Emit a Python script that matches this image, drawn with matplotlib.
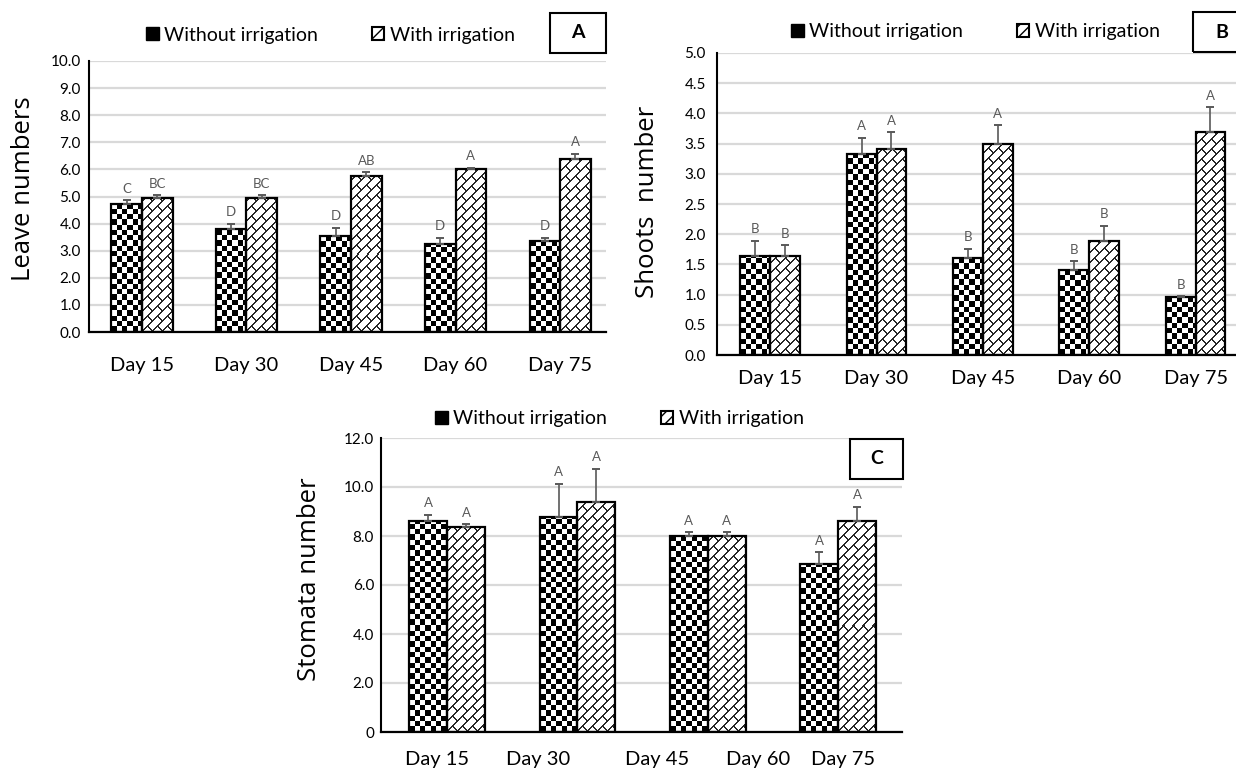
import numpy as np
import matplotlib
matplotlib.use("Agg")
import matplotlib.pyplot as plt
from matplotlib.patches import Patch, Rectangle

plt.rcParams['font.family'] = ['Lato', 'DejaVu Sans']

# ---- data ----
days = ["Day 15", "Day 30", "Day 45", "Day 60", "Day 75"]
series_names = ["Without irrigation", "With irrigation"]

# A: leave numbers
leaves_without = [4.74, 3.81, 3.53, 3.24, 3.36]
leaves_without_err = [0.12, 0.19, 0.31, 0.23, 0.11]
leaves_with = [4.93, 4.93, 5.77, 6.01, 6.38]
leaves_with_err = [0.11, 0.11, 0.12, 0.06, 0.19]
leaves_letters_without = ["C", "D", "D", "D", "D"]
leaves_letters_with = ["BC", "BC", "AB", "A", "A"]
leaves_ticks = [0, 1, 2, 3, 4, 5, 6, 7, 8, 9, 10]
leaves_ticklabels = ["0.0", "1.0", "2.0", "3.0", "4.0", "5.0", "6.0", "7.0", "8.0", "9.0", "10.0"]

# B: shoots number
shoots_without = [1.64, 3.32, 1.61, 1.40, 0.96]
shoots_without_err = [0.25, 0.28, 0.15, 0.15, 0.01]
shoots_with = [1.64, 3.41, 3.50, 1.89, 3.69]
shoots_with_err = [0.18, 0.28, 0.30, 0.25, 0.41]
shoots_letters_without = ["B", "A", "B", "B", "B"]
shoots_letters_with = ["B", "A", "A", "B", "A"]
shoots_ticks = [0, 0.5, 1, 1.5, 2, 2.5, 3, 3.5, 4, 4.5, 5]
shoots_ticklabels = ["0.0", "0.5", "1.0", "1.5", "2.0", "2.5", "3.0", "3.5", "4.0", "4.5", "5.0"]

# C: stomata number (four bar groups, five axis labels in the original)
stomata_without = [8.63, 8.79, 7.98, 6.85]
stomata_without_err = [0.23, 1.34, 0.17, 0.49]
stomata_with = [8.35, 9.38, 7.98, 8.63]
stomata_with_err = [0.13, 1.36, 0.17, 0.57]
stomata_letters_without = ["A", "A", "A", "A"]
stomata_letters_with = ["A", "A", "A", "A"]
stomata_ticks = [0, 2, 4, 6, 8, 10, 12]
stomata_ticklabels = ["0", "2.0", "4.0", "6.0", "8.0", "10.0", "12.0"]

W, H = 1236, 769


def fig_xy(x, y):
    # pixel position (from top-left) -> figure fraction
    return x / W, 1 - y / H


def checker(h, w, sq=5.3):
    r = np.arange(h)[:, None]
    c = np.arange(w)[None, :]
    k = (np.floor((h - 1 - r) / sq) + np.floor(c / sq)).astype(int)
    return np.where(k % 2 == 0, 0.0, 1.0)


def brick(h, w, p=10, q=20, lw=1.6):
    r = np.arange(h)[:, None]
    c = np.arange(w)[None, :]
    y = h - 1 - r
    u = y - c
    v = y + c
    k = np.floor(u / p)
    fwd = np.mod(u, p) < lw
    back = np.mod(v + k * q / 2, q) < lw
    return np.where(fwd | back, 0.15, 1.0)


def fill_bars(ax, bars, pattern):
    for rect in bars:
        x0, y0 = rect.get_x(), rect.get_y()
        x1, y1 = x0 + rect.get_width(), y0 + rect.get_height()
        (px0, py0), (px1, py1) = ax.transData.transform([(x0, y0), (x1, y1)])
        w = max(int(round(px1 - px0)), 1)
        h = max(int(round(py1 - py0)), 1)
        ax.imshow(pattern(h, w), extent=(x0, x1, y0, y1), cmap='gray', vmin=0, vmax=1,
                  interpolation='nearest', aspect='auto', zorder=2)


def draw_panel(ax, vals1, err1, vals2, err2, let1, let2, ticks, ticklabels,
               xlim, width, xtick_pos, xtick_labels, xpad, ypad):
    x = np.arange(len(vals1))
    ymax = ticks[-1]
    ax.set_xlim(*xlim)
    ax.set_ylim(0, ymax)
    b1 = ax.bar(x - width / 2, vals1, width, facecolor='none', edgecolor='black', lw=1.6, zorder=3)
    b2 = ax.bar(x + width / 2, vals2, width, facecolor='none', edgecolor='black', lw=1.6, zorder=3)
    fill_bars(ax, b1, checker)
    fill_bars(ax, b2, brick)
    for xs, v, e, labs in [(x - width / 2, vals1, err1, let1), (x + width / 2, vals2, err2, let2)]:
        ax.errorbar(xs, v, yerr=[np.zeros(len(v)), e], fmt='none', ecolor='#595959',
                    elinewidth=1.2, capsize=3, capthick=1.4, zorder=4)
        for xi, vi, ei, lab in zip(xs, v, e, labs):
            ax.annotate(lab, (xi, vi + ei), xytext=(0, 4), textcoords='offset points',
                        ha='center', va='bottom', fontsize=9.5, color='#595959')
    ax.set_xlim(*xlim)
    ax.set_ylim(0, ymax)
    ax.set_yticks(ticks)
    ax.set_yticklabels(ticklabels, fontsize=11)
    ax.set_xticks(xtick_pos)
    ax.set_xticklabels(xtick_labels, fontsize=14.5)
    ax.tick_params(axis='x', length=0, pad=xpad)
    ax.tick_params(axis='y', length=0, pad=ypad)
    ax.yaxis.grid(True, color='#d9d9d9', lw=1.6)
    ax.set_axisbelow(True)
    for s in ['top', 'right']:
        ax.spines[s].set_visible(False)
    ax.spines['left'].set_linewidth(1.5)
    ax.spines['bottom'].set_linewidth(1.6)


def legend(fig, x, y):
    handles = [Patch(facecolor='black', edgecolor='black', lw=1),
               Patch(facecolor='white', edgecolor='black', hatch='///', lw=1.5)]
    fig.legend(handles, series_names, loc='center left', bbox_to_anchor=fig_xy(x, y),
               ncol=2, frameon=False, fontsize=14, handlelength=0.65, handleheight=0.65,
               handletextpad=0.3, columnspacing=2.75, borderpad=0, borderaxespad=0)


def panel_tag(fig, letter, left, top, right, bottom):
    x0, y0 = fig_xy(left, bottom)
    fig.add_artist(Rectangle((x0, y0), (right - left) / W, (bottom - top) / H,
                             transform=fig.transFigure, fill=False, edgecolor='black', lw=1.5))
    fig.text(*fig_xy((left + right) / 2, (top + bottom) / 2), letter, ha='center', va='center',
             fontsize=14, fontweight='bold')


fig = plt.figure(figsize=(W / 100, H / 100), dpi=100)

# panel A
axA = fig.add_axes([89 / W, 1 - 332 / H, (606 - 89) / W, (332 - 61) / H])
draw_panel(axA, leaves_without, leaves_without_err, leaves_with, leaves_with_err,
           leaves_letters_without, leaves_letters_with, leaves_ticks, leaves_ticklabels,
           (-0.507, 4.44), 0.292, np.arange(5), days, 18, 6)
fig.text(*fig_xy(24, 189), "Leave numbers", rotation=90, ha='center', va='center',
         fontsize=18.5, family=['Open Sans', 'DejaVu Sans'])
legend(fig, 146, 35)
panel_tag(fig, "A", 550, 13, 606, 53)

# panel B
axB = fig.add_axes([717 / W, 1 - 355 / H, (1236 - 717) / W, (355 - 53) / H])
draw_panel(axB, shoots_without, shoots_without_err, shoots_with, shoots_with_err,
           shoots_letters_without, shoots_letters_with, shoots_ticks, shoots_ticklabels,
           (-0.5, 4.38), 0.28, np.arange(5), days, 11, 8)
fig.text(*fig_xy(648, 202), "Shoots  number", rotation=90, ha='center', va='center',
         fontsize=18.5, family=['Open Sans', 'DejaVu Sans'])
legend(fig, 791, 32)
panel_tag(fig, "B", 1193, 12, 1250, 52)

# panel C
axC = fig.add_axes([381 / W, 1 - 732 / H, (902 - 381) / W, (732 - 438) / H])
draw_panel(axC, stomata_without, stomata_without_err, stomata_with, stomata_with_err,
           stomata_letters_without, stomata_letters_with, stomata_ticks, stomata_ticklabels,
           (-0.507, 3.49), 0.29, [-0.08, 0.70, 1.61, 2.39, 3.04], days, 13.5, 5)
fig.text(*fig_xy(310, 579), "Stomata number", rotation=90, ha='center', va='center',
         fontsize=18.5, family=['Open Sans', 'DejaVu Sans'])
legend(fig, 435, 419)
panel_tag(fig, "C", 850, 439, 903, 479)

fig.savefig("out.png", dpi=100)
